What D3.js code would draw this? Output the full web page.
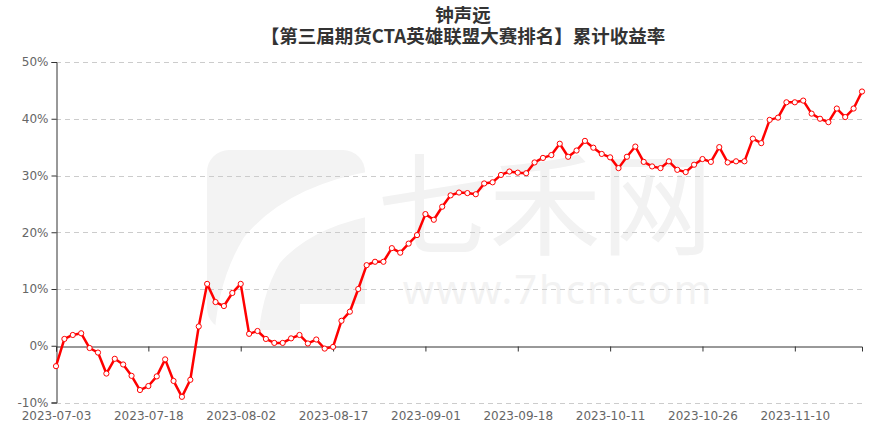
<!DOCTYPE html>
<html><head><meta charset="utf-8">
<script src="https://cdn.jsdelivr.net/npm/d3@7"></script>
<style>html,body{margin:0;padding:0;background:#fff;}svg{display:block;font-family:"DejaVu Sans",sans-serif;}</style>
</head><body><svg id="c" width="871" height="430"></svg>
<script>
const titleLines = ["钟声远", "【第三届期货CTA英雄联盟大赛排名】累计收益率"];
const dates = ["2023-07-03","2023-07-04","2023-07-05","2023-07-06","2023-07-07","2023-07-10","2023-07-11","2023-07-12","2023-07-13","2023-07-14","2023-07-17","2023-07-18","2023-07-19","2023-07-20","2023-07-21","2023-07-24","2023-07-25","2023-07-26","2023-07-27","2023-07-28","2023-07-31","2023-08-01","2023-08-02","2023-08-03","2023-08-04","2023-08-07","2023-08-08","2023-08-09","2023-08-10","2023-08-11","2023-08-14","2023-08-15","2023-08-16","2023-08-17","2023-08-18","2023-08-21","2023-08-22","2023-08-23","2023-08-24","2023-08-25","2023-08-28","2023-08-29","2023-08-30","2023-08-31","2023-09-01","2023-09-04","2023-09-05","2023-09-06","2023-09-07","2023-09-08","2023-09-11","2023-09-12","2023-09-13","2023-09-14","2023-09-15","2023-09-18","2023-09-19","2023-09-20","2023-09-21","2023-09-22","2023-09-25","2023-09-26","2023-09-27","2023-09-28","2023-10-09","2023-10-10","2023-10-11","2023-10-12","2023-10-13","2023-10-16","2023-10-17","2023-10-18","2023-10-19","2023-10-20","2023-10-23","2023-10-24","2023-10-25","2023-10-26","2023-10-27","2023-10-30","2023-10-31","2023-11-01","2023-11-02","2023-11-03","2023-11-06","2023-11-07","2023-11-08","2023-11-09","2023-11-10","2023-11-13","2023-11-14","2023-11-15","2023-11-16","2023-11-17","2023-11-20","2023-11-21","2023-11-22"];
const returns = [-3.6,1.2,1.9,2.2,-0.4,-1.2,-4.9,-2.3,-3.3,-5.3,-7.8,-7.1,-5.4,-2.4,-6.2,-9.0,-6.0,3.4,10.9,7.7,7.0,9.3,10.9,2.1,2.6,1.2,0.5,0.5,1.3,1.9,0.4,1.1,-0.5,-0.2,4.4,6.0,10.0,14.2,14.8,14.8,17.2,16.4,18.0,19.5,23.2,22.2,24.5,26.5,27.0,26.9,26.7,28.6,28.8,30.1,30.7,30.5,30.4,32.3,33.1,33.6,35.6,33.3,34.4,36.1,34.9,33.8,33.2,31.3,33.3,35.1,32.4,31.6,31.3,32.5,31.0,30.6,31.9,32.9,32.4,35.0,32.3,32.5,32.5,36.5,35.7,39.8,40.2,42.9,42.9,43.2,40.9,40.0,39.4,41.8,40.3,41.8,44.8];
const xTickLabels = ["2023-07-03","2023-07-18","2023-08-02","2023-08-17","2023-09-01","2023-09-18","2023-10-11","2023-10-26","2023-11-10"];
const yTicks = [-10,0,10,20,30,40,50];

(function(){
const svg = d3.select("#c");
const mL = 56, mR = 862, mT = 62, mB = 402.5;

// watermark (logo + site name)
const wm = svg.append("g");
wm.append("rect").attr("x",207).attr("y",150).attr("width",158).attr("height",180).attr("rx",22).attr("fill","#f3f3f3");
wm.append("path").attr("d","M380,192 Q300,205 262,250 Q238,290 236,345").attr("fill","none").attr("stroke","#fff").attr("stroke-width",44);
wm.append("rect").attr("x",300).attr("y",304).attr("width",70).attr("height",30).attr("fill","#fff");
wm.append("text").attr("x",545).attr("y",247).attr("text-anchor","middle").attr("fill","#f2f2f2")
  .attr("font-family","Noto Sans CJK SC").attr("font-size",112).text("七禾网");
wm.append("text").attr("x",558).attr("y",304).attr("text-anchor","middle").attr("fill","#f2f2f2")
  .attr("font-family","Noto Sans").attr("font-size",40).attr("letter-spacing",2).text("www.7hcn.com");

const x = d3.scalePoint().domain(dates).range([mL, mR]);
const y = d3.scaleLinear().domain([-10, 50]).range([mB, mT]);

// grid
svg.append("g").selectAll("line").data(yTicks.filter(v => v !== 0)).join("line")
  .attr("x1", mL).attr("x2", mR)
  .attr("y1", d => Math.round(y(d)) + 0.5).attr("y2", d => Math.round(y(d)) + 0.5)
  .attr("stroke", "#ccc").attr("stroke-dasharray", "5,4");

// y axis
const yAxis = svg.append("g").attr("transform", `translate(${mL + 0.5},0)`)
  .call(d3.axisLeft(y).tickValues(yTicks).tickSize(5).tickPadding(3).tickFormat(d => d + "%"));
yAxis.select(".domain").attr("stroke", "#333");
yAxis.selectAll(".tick line").attr("stroke", "#333");
yAxis.selectAll("text").attr("fill", "#666").attr("font-size", 12).attr("font-family","DejaVu Sans");

// x axis at zero, labels at the bottom
const xAxis = svg.append("g").attr("transform", `translate(0,${Math.round(y(0)) + 0.5})`)
  .call(d3.axisBottom(x).tickValues(xTickLabels).tickSizeOuter(0).tickSize(5).tickPadding(60));
xAxis.select(".domain").attr("stroke", "#333");
xAxis.selectAll(".tick line").attr("stroke", "#333");
xAxis.selectAll("text").attr("fill", "#666").attr("font-size", 12).attr("font-family","DejaVu Sans");

// line
const line = d3.line().x((d, i) => x(dates[i])).y(d => y(d));
svg.append("path").datum(returns).attr("d", line)
  .attr("fill", "none").attr("stroke", "#ff0000").attr("stroke-width", 2.5).attr("stroke-linejoin","round");
svg.append("g").selectAll("circle").data(returns).join("circle")
  .attr("cx", (d, i) => x(dates[i])).attr("cy", d => y(d)).attr("r", 2.6)
  .attr("fill", "#fff").attr("stroke", "#ff0000").attr("stroke-width", 1);

// title
const t = svg.append("text").attr("text-anchor", "middle").attr("font-family","Noto Sans CJK SC")
  .attr("font-weight", "bold").attr("font-size", 18.5).attr("fill", "#333");
t.append("tspan").attr("x", 463).attr("y", 22).text(titleLines[0]);
t.append("tspan").attr("x", 463).attr("y", 43).text(titleLines[1]);
})();
</script></body></html>
